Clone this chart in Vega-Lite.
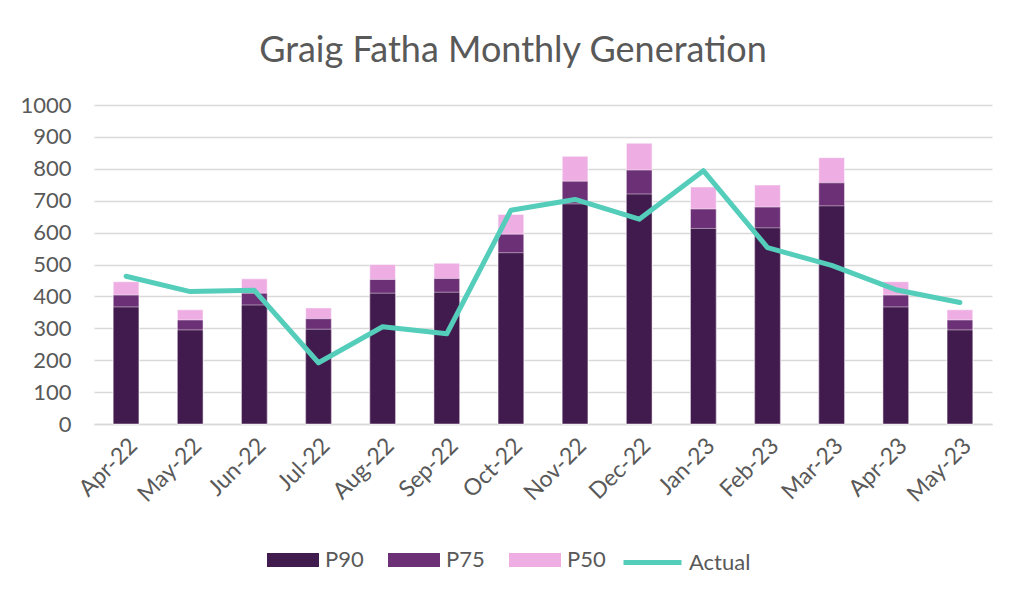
{
  "$schema": "https://vega.github.io/schema/vega-lite/v6.json",
  "width": 898,
  "height": 319,
  "padding": {"left": 19, "top": 33, "right": 30, "bottom": 10},
  "background": "white",
  "title": {
    "text": "Graig Fatha Monthly Generation",
    "font": "Lato",
    "fontSize": 36,
    "fontWeight": "normal",
    "color": "#595959",
    "offset": 24,
    "dx": -30
  },
  "config": {
    "view": {"stroke": null},
    "font": "Lato"
  },
  "datasets": {
    "bands": [
      {"month": "Apr-22", "series": "P90", "value": 367},
      {"month": "Apr-22", "series": "P75", "value": 404},
      {"month": "Apr-22", "series": "P50", "value": 446},
      {"month": "May-22", "series": "P90", "value": 295},
      {"month": "May-22", "series": "P75", "value": 326},
      {"month": "May-22", "series": "P50", "value": 358},
      {"month": "Jun-22", "series": "P90", "value": 373},
      {"month": "Jun-22", "series": "P75", "value": 410},
      {"month": "Jun-22", "series": "P50", "value": 455},
      {"month": "Jul-22", "series": "P90", "value": 297},
      {"month": "Jul-22", "series": "P75", "value": 330},
      {"month": "Jul-22", "series": "P50", "value": 364},
      {"month": "Aug-22", "series": "P90", "value": 410},
      {"month": "Aug-22", "series": "P75", "value": 453},
      {"month": "Aug-22", "series": "P50", "value": 500},
      {"month": "Sep-22", "series": "P90", "value": 413},
      {"month": "Sep-22", "series": "P75", "value": 456},
      {"month": "Sep-22", "series": "P50", "value": 504},
      {"month": "Oct-22", "series": "P90", "value": 537},
      {"month": "Oct-22", "series": "P75", "value": 595},
      {"month": "Oct-22", "series": "P50", "value": 657},
      {"month": "Nov-22", "series": "P90", "value": 690},
      {"month": "Nov-22", "series": "P75", "value": 761},
      {"month": "Nov-22", "series": "P50", "value": 839},
      {"month": "Dec-22", "series": "P90", "value": 721},
      {"month": "Dec-22", "series": "P75", "value": 796},
      {"month": "Dec-22", "series": "P50", "value": 880},
      {"month": "Jan-23", "series": "P90", "value": 613},
      {"month": "Jan-23", "series": "P75", "value": 674},
      {"month": "Jan-23", "series": "P50", "value": 743},
      {"month": "Feb-23", "series": "P90", "value": 615},
      {"month": "Feb-23", "series": "P75", "value": 680},
      {"month": "Feb-23", "series": "P50", "value": 749},
      {"month": "Mar-23", "series": "P90", "value": 684},
      {"month": "Mar-23", "series": "P75", "value": 756},
      {"month": "Mar-23", "series": "P50", "value": 835},
      {"month": "Apr-23", "series": "P90", "value": 367},
      {"month": "Apr-23", "series": "P75", "value": 404},
      {"month": "Apr-23", "series": "P50", "value": 446},
      {"month": "May-23", "series": "P90", "value": 295},
      {"month": "May-23", "series": "P75", "value": 326},
      {"month": "May-23", "series": "P50", "value": 358}
    ],
    "actual": [
      {"month": "Apr-22", "value": 463},
      {"month": "May-22", "value": 415},
      {"month": "Jun-22", "value": 419},
      {"month": "Jul-22", "value": 192},
      {"month": "Aug-22", "value": 305},
      {"month": "Sep-22", "value": 283},
      {"month": "Oct-22", "value": 670},
      {"month": "Nov-22", "value": 704},
      {"month": "Dec-22", "value": 642},
      {"month": "Jan-23", "value": 794},
      {"month": "Feb-23", "value": 553},
      {"month": "Mar-23", "value": 497},
      {"month": "Apr-23", "value": 421},
      {"month": "May-23", "value": 381}
    ]
  },
  "encoding": {
    "x": {
      "field": "month",
      "type": "nominal",
      "sort": ["Apr-22", "May-22", "Jun-22", "Jul-22", "Aug-22", "Sep-22", "Oct-22", "Nov-22", "Dec-22", "Jan-23", "Feb-23", "Mar-23", "Apr-23", "May-23"],
      "title": null,
      "scale": {"paddingInner": 0.6, "paddingOuter": 0.3},
      "axis": {
        "labelAngle": -45,
        "labelFontSize": 23,
        "labelColor": "#595959",
        "labelPadding": 10,
        "ticks": false,
        "domainColor": "#D9D9D9",
        "domainWidth": 1.5
      }
    },
    "y": {
      "field": "value",
      "type": "quantitative",
      "title": null,
      "scale": {"domain": [0, 1000]},
      "axis": {
        "values": [0, 100, 200, 300, 400, 500, 600, 700, 800, 900, 1000],
        "format": "d",
        "labelFontSize": 22,
        "labelColor": "#595959",
        "labelPadding": 23,
        "ticks": false,
        "domain": false,
        "gridColor": "#D9D9D9",
        "gridWidth": 1.5
      }
    }
  },
  "layer": [
    {
      "data": {"name": "bands"},
      "mark": {"type": "bar", "stroke": "white", "strokeWidth": 0.8, "strokeOpacity": 0.6},
      "encoding": {
        "y": {"field": "value", "type": "quantitative", "stack": null},
        "fill": {
          "field": "series",
          "type": "nominal",
          "scale": {"domain": ["P90", "P75", "P50"], "range": ["#421B4E", "#6B3075", "#EEAEE4"]},
          "legend": {
            "title": null,
            "orient": "none",
            "direction": "horizontal",
            "legendX": 173,
            "legendY": 429,
            "padding": 0,
            "symbolType": "M-1,-0.27L1,-0.27L1,0.27L-1,0.27Z",
            "symbolSize": 2704,
            "symbolStrokeWidth": 0,
            "labelFontSize": 22,
            "labelColor": "#595959",
            "labelOffset": 6,
            "columnPadding": 24
          }
        },
        "order": {"field": "value", "type": "quantitative", "sort": "descending"}
      }
    },
    {
      "data": {"name": "actual"},
      "mark": {"type": "line", "strokeWidth": 5, "strokeCap": "round", "strokeJoin": "round"},
      "encoding": {
        "stroke": {
          "datum": "Actual",
          "type": "nominal",
          "scale": {"domain": ["Actual"], "range": ["#55CDBB"]},
          "legend": {
            "title": null,
            "orient": "none",
            "legendX": 527,
            "legendY": 426,
            "padding": 0,
            "symbolType": "stroke",
            "symbolSize": 3364,
            "symbolStrokeWidth": 5,
            "labelFontSize": 22,
            "labelColor": "#595959",
            "labelOffset": 5
          }
        }
      }
    }
  ]
}
